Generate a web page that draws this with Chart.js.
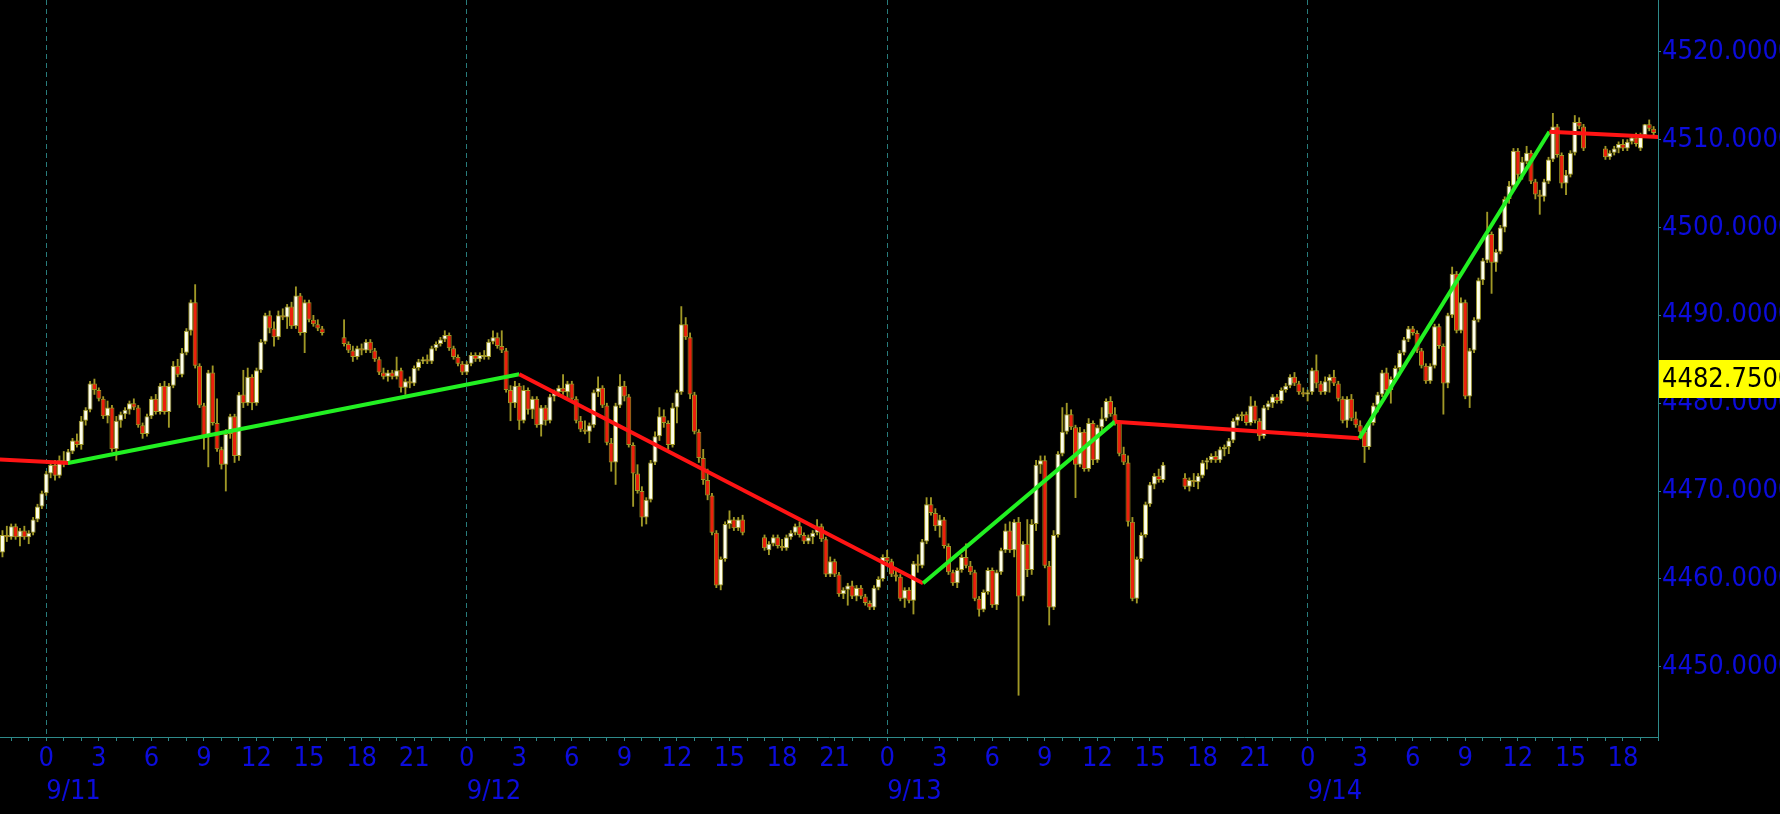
<!DOCTYPE html>
<html>
<head>
<meta charset="utf-8">
<script src="https://cdn.jsdelivr.net/npm/chart.js@4.4.0/dist/chart.umd.min.js"></script>
<style>
  html,body{margin:0;padding:0;background:#000;}
  #wrap{width:1780px;height:814px;}
</style>
</head>
<body>
<div id="wrap"><canvas id="c" width="1780" height="814"></canvas></div>
<script>
// ── time axis: hours counted from 9/11 0:00, 15-minute candles ──
const xMin = -2.64, xMax = 92;
const barHours = 0.25;
const dayStarts = [0, 24, 48, 72];
const dayLabels = ['9/11', '9/12', '9/13', '9/14'];
const yMin = 4442.0, yMax = 4525.9;
const yTicks = [4450, 4460, 4470, 4480, 4490, 4500, 4510, 4520];
const lastPrice = 4482.75;

// session start hours (daily 16:00-17:00 break leaves gaps)
const sessionStarts = [-2.5, 17, 41, 65, 89];

// candles [open, high, low, close]
const session0 = [
  [4463.0,4465.5,4462.5,4465.0],[4465.0,4466.0,4464.25,4464.75],[4464.75,4466.25,4464.5,4466.0],[4466.0,4466.25,4464.5,4464.75],
  [4464.75,4465.75,4463.75,4465.5],[4465.5,4466.0,4464.5,4464.75],[4464.75,4465.5,4464.0,4465.25],[4465.25,4467.0,4465.0,4466.75],
  [4466.75,4468.5,4466.5,4468.25],[4468.25,4470.0,4468.0,4469.75],[4469.75,4472.25,4469.5,4472.0],[4472.0,4473.25,4471.5,4473.0],
  [4473.0,4473.5,4471.25,4471.75],[4471.75,4474.0,4471.5,4473.5],[4473.5,4474.5,4472.75,4473.25],[4473.25,4474.75,4473.0,4474.5],
  [4474.5,4476.0,4474.25,4475.75],[4475.75,4476.5,4475.0,4475.25],[4475.25,4478.5,4474.75,4478.0],[4478.0,4479.5,4477.5,4479.25],
  [4479.25,4482.5,4479.0,4482.25],[4482.25,4482.75,4481.0,4481.5],[4481.5,4481.75,4480.25,4480.5],[4480.5,4480.75,4478.25,4478.5],
  [4478.5,4480.25,4477.75,4479.5],[4479.5,4479.75,4474.5,4474.75],[4474.75,4478.5,4473.5,4478.0],[4478.0,4479.0,4477.25,4478.75],
  [4478.75,4479.5,4478.25,4479.25],[4479.25,4480.25,4478.75,4480.0],[4480.0,4480.5,4479.25,4479.5],[4479.5,4479.75,4477.25,4477.5],
  [4477.5,4477.75,4476.0,4476.5],[4476.5,4478.75,4476.25,4478.5],[4478.5,4480.75,4478.25,4480.5],[4480.5,4481.0,4478.75,4479.0],
  [4479.0,4482.25,4478.75,4482.0],[4482.0,4482.5,4478.75,4479.0],[4479.0,4482.25,4477.25,4482.0],[4482.0,4484.75,4481.75,4484.25],
  [4484.25,4485.0,4483.0,4483.25],[4483.25,4486.25,4483.0,4485.75],[4485.75,4488.5,4485.5,4488.25],[4488.25,4491.75,4487.75,4491.5],
  [4491.5,4493.5,4484.0,4484.25],[4484.25,4484.5,4479.5,4479.75],[4479.75,4480.0,4474.75,4476.25],[4476.25,4483.75,4472.75,4483.5],
  [4483.5,4484.25,4477.5,4477.75],[4477.75,4480.5,4474.5,4474.75],[4474.75,4475.0,4472.5,4473.0],[4473.0,4477.0,4470.0,4476.5],
  [4476.5,4478.75,4476.0,4478.5],[4478.5,4478.75,4473.25,4474.0],[4474.0,4481.25,4473.5,4481.0],[4481.0,4483.75,4479.5,4480.0],
  [4480.0,4484.0,4479.75,4483.0],[4483.0,4483.25,4479.25,4480.0],[4480.0,4484.0,4479.75,4483.75],[4483.75,4487.25,4483.5,4487.0],
  [4487.0,4490.25,4486.75,4490.0],[4490.0,4490.5,4488.0,4488.5],[4488.5,4489.25,4486.5,4487.5],[4487.5,4490.5,4487.25,4490.0],
  [4490.0,4490.75,4489.5,4489.75],[4489.75,4491.25,4488.5,4491.0],[4491.0,4491.5,4488.5,4488.75],[4488.75,4493.25,4488.5,4492.25],
  [4492.25,4492.5,4487.75,4488.0],[4488.0,4491.75,4485.75,4491.5],[4491.5,4491.75,4489.25,4489.5],[4489.5,4490.0,4488.75,4489.0],
  [4489.0,4489.5,4488.25,4488.5],[4488.5,4488.75,4487.75,4488.0]
];
const session1 = [
  [4487.5,4489.5,4486.5,4486.75],[4486.75,4487.0,4485.75,4486.0],[4486.0,4486.5,4484.75,4485.25],[4485.25,4486.5,4485.0,4486.25],
  [4486.25,4486.75,4485.5,4486.0],[4486.0,4487.25,4485.75,4487.0],[4487.0,4487.25,4485.75,4486.0],[4486.0,4486.25,4484.75,4485.0],
  [4485.0,4485.25,4483.25,4483.5],[4483.5,4484.0,4482.75,4483.0],[4483.0,4483.75,4482.5,4483.5],[4483.5,4483.75,4482.75,4483.0],
  [4483.0,4485.25,4482.75,4483.75],[4483.75,4484.0,4481.25,4481.75],[4481.75,4482.75,4481.0,4482.5],[4482.5,4483.0,4481.75,4482.25],
  [4482.25,4484.25,4482.0,4484.0],[4484.0,4485.0,4483.75,4484.75],[4484.75,4485.25,4484.5,4485.0],[4485.0,4485.5,4484.5,4484.75],
  [4484.75,4486.5,4484.5,4486.25],[4486.25,4487.0,4486.0,4486.75],[4486.75,4487.5,4486.5,4487.25],[4487.25,4488.25,4487.0,4487.75],
  [4487.75,4488.0,4486.0,4486.25],[4486.25,4486.5,4485.0,4485.25],[4485.25,4485.5,4484.25,4484.5],[4484.5,4484.75,4483.25,4483.5],
  [4483.5,4484.75,4483.25,4484.5],[4484.5,4485.75,4484.25,4485.5],[4485.5,4485.75,4484.75,4485.0],[4485.0,4485.75,4484.75,4485.5],
  [4485.5,4486.0,4485.0,4485.25],[4485.25,4487.25,4485.0,4487.0],[4487.0,4488.25,4486.75,4487.5],[4487.5,4488.0,4486.25,4486.5],
  [4486.5,4488.25,4485.75,4486.0],[4486.0,4486.25,4481.25,4481.5],[4481.5,4482.0,4478.0,4480.0],[4480.0,4482.5,4479.5,4482.0],
  [4482.0,4482.25,4477.0,4478.0],[4478.0,4482.0,4477.75,4481.5],[4481.5,4481.75,4478.75,4479.25],[4479.25,4480.75,4478.25,4480.5],
  [4480.5,4480.75,4477.25,4477.5],[4477.5,4479.75,4476.25,4479.5],[4479.5,4479.75,4477.5,4478.0],[4478.0,4481.0,4477.75,4480.75],
  [4480.75,4481.5,4480.25,4481.25],[4481.25,4482.0,4480.75,4481.75],[4481.75,4483.25,4481.0,4481.25],[4481.25,4482.5,4480.5,4482.25],
  [4482.25,4482.5,4480.25,4480.5],[4480.5,4480.75,4477.75,4478.0],[4478.0,4478.5,4476.75,4477.0],[4477.0,4478.0,4476.5,4476.75],
  [4476.75,4477.75,4475.5,4477.5],[4477.5,4481.5,4477.25,4481.25],[4481.25,4483.0,4480.75,4481.75],[4481.75,4482.0,4479.5,4479.75],
  [4479.75,4480.0,4475.25,4475.5],[4475.5,4476.0,4472.25,4473.25],[4473.25,4480.0,4470.75,4479.75],[4479.75,4483.25,4479.5,4482.0],
  [4482.0,4482.5,4480.25,4480.75],[4480.75,4481.0,4475.0,4475.25],[4475.25,4475.5,4468.25,4472.0],[4472.0,4473.0,4469.75,4470.0],
  [4470.0,4470.5,4466.0,4467.0],[4467.0,4469.25,4466.25,4469.0],[4469.0,4473.5,4468.75,4473.25],[4473.25,4476.75,4473.0,4476.25],
  [4476.25,4479.5,4475.75,4478.5],[4478.5,4479.25,4477.25,4477.75],[4477.75,4478.0,4474.75,4475.25],[4475.25,4480.0,4475.0,4479.5],
  [4479.5,4481.5,4477.75,4481.25],[4481.25,4491.0,4481.0,4489.0],[4489.0,4489.75,4487.25,4487.5],[4487.5,4488.0,4480.5,4481.0],
  [4481.0,4481.25,4476.5,4476.75],[4476.75,4477.0,4473.25,4473.75],[4473.75,4474.75,4470.75,4471.25],[4471.25,4472.5,4469.0,4469.5],
  [4469.5,4469.75,4465.0,4465.25],[4465.25,4465.5,4459.0,4459.25],[4459.25,4462.5,4458.75,4462.25],[4462.25,4466.5,4462.0,4466.25],
  [4466.25,4467.75,4465.75,4466.75],[4466.75,4467.0,4465.5,4465.75],[4465.75,4467.0,4465.5,4466.75],[4466.75,4467.25,4465.0,4465.25]
];
const session2 = [
  [4464.75,4465.0,4463.25,4463.5],[4463.25,4464.25,4462.75,4464.0],[4464.0,4465.0,4463.75,4464.75],[4464.75,4465.0,4463.5,4463.75],
  [4463.75,4464.5,4463.25,4463.5],[4463.5,4465.0,4463.25,4464.75],[4464.75,4465.5,4464.5,4465.25],[4465.25,4466.25,4465.0,4466.0],
  [4466.0,4466.5,4464.75,4465.0],[4465.0,4465.25,4464.0,4464.25],[4464.25,4465.0,4464.0,4464.75],[4464.75,4465.5,4464.0,4465.25],
  [4465.25,4466.75,4465.0,4466.0],[4466.0,4466.25,4464.25,4464.5],[4464.5,4464.75,4460.25,4460.5],[4460.5,4462.5,4460.25,4462.0],
  [4462.0,4462.25,4460.25,4460.5],[4460.5,4460.75,4458.0,4458.25],[4458.25,4459.0,4457.75,4458.75],[4458.75,4459.5,4457.0,4459.25],
  [4459.25,4459.75,4457.75,4458.0],[4458.0,4459.25,4457.5,4459.0],[4459.0,4459.25,4457.75,4458.0],[4458.0,4458.25,4457.0,4457.25],
  [4457.25,4457.5,4456.5,4456.75],[4456.75,4459.25,4456.5,4459.0],[4459.0,4460.25,4458.75,4460.0],[4460.0,4462.75,4459.75,4462.5],
  [4462.5,4463.25,4461.75,4462.0],[4462.0,4462.25,4460.25,4460.5],[4460.5,4461.25,4459.75,4460.25],[4460.25,4460.5,4457.5,4457.75],
  [4457.75,4459.0,4456.75,4458.75],[4458.75,4459.0,4457.25,4457.5],[4457.5,4462.0,4456.0,4461.75],[4461.75,4462.75,4460.75,4461.5],
  [4461.5,4464.5,4461.25,4464.25],[4464.25,4469.25,4464.0,4468.5],[4468.5,4469.25,4467.25,4467.5],[4467.5,4468.0,4465.5,4466.0],
  [4466.0,4467.25,4464.75,4466.75],[4466.75,4467.0,4463.5,4463.75],[4463.75,4464.0,4460.5,4460.75],[4460.75,4461.0,4459.25,4459.5],
  [4459.5,4461.25,4459.0,4461.0],[4461.0,4462.75,4460.75,4462.5],[4462.5,4464.0,4461.25,4461.5],[4461.5,4462.0,4460.5,4460.75],
  [4460.75,4461.0,4457.5,4457.75],[4457.75,4458.0,4455.75,4456.5],[4456.5,4458.75,4456.25,4458.5],[4458.5,4461.25,4458.25,4461.0],
  [4461.0,4461.25,4456.75,4457.0],[4457.0,4461.0,4456.5,4460.75],[4460.75,4463.5,4460.5,4463.25],[4463.25,4466.25,4463.0,4465.5],
  [4465.5,4466.5,4463.0,4463.25],[4463.25,4466.75,4462.5,4466.5],[4466.5,4467.0,4446.75,4458.0],[4458.0,4464.25,4457.5,4464.0],
  [4464.0,4466.75,4460.25,4461.0],[4461.0,4466.75,4460.5,4466.25],[4466.25,4473.5,4465.5,4473.0],[4473.0,4474.0,4472.0,4473.5],
  [4473.5,4474.0,4461.25,4461.5],[4461.5,4462.0,4454.75,4456.75],[4456.75,4465.5,4456.5,4465.0],[4465.0,4474.5,4464.75,4474.25],
  [4474.25,4479.5,4474.0,4476.75],[4476.75,4480.0,4476.5,4478.75],[4478.75,4479.25,4477.0,4477.25],[4477.25,4477.5,4469.25,4473.0],
  [4473.0,4477.25,4472.75,4476.75],[4476.75,4477.0,4472.25,4472.5],[4472.5,4478.25,4472.25,4477.75],[4477.75,4478.0,4473.0,4473.5],
  [4473.5,4477.5,4473.25,4477.25],[4477.25,4479.5,4476.75,4478.25],[4478.25,4480.5,4478.0,4480.25],[4480.25,4480.75,4478.5,4478.75],
  [4478.75,4479.5,4477.5,4477.75],[4477.75,4478.0,4474.0,4474.25],[4474.25,4475.0,4473.0,4473.25],[4473.25,4474.0,4466.0,4466.5],
  [4466.5,4467.0,4457.5,4457.75],[4457.75,4462.5,4457.25,4462.25],[4462.25,4465.25,4462.0,4465.0],[4465.0,4468.75,4464.75,4468.5],
  [4468.5,4471.0,4468.25,4470.75],[4470.75,4472.0,4470.25,4471.75],[4471.75,4472.5,4471.0,4471.25],[4471.25,4473.25,4471.0,4473.0]
];
const session3 = [
  [4471.5,4472.0,4470.25,4470.5],[4470.5,4471.5,4470.0,4471.25],[4471.25,4472.0,4470.5,4471.0],[4471.0,4472.0,4470.25,4471.75],
  [4471.75,4473.5,4471.5,4473.25],[4473.25,4473.75,4472.5,4473.5],[4473.5,4474.25,4473.25,4474.0],[4474.0,4474.5,4473.25,4473.5],
  [4473.5,4475.0,4473.25,4474.75],[4474.75,4475.25,4474.0,4475.0],[4475.0,4476.0,4474.25,4475.75],[4475.75,4478.25,4475.5,4478.0],
  [4478.0,4478.75,4477.5,4478.5],[4478.5,4479.0,4478.0,4478.75],[4478.75,4479.0,4477.5,4477.75],[4477.75,4480.75,4477.5,4479.75],
  [4479.75,4480.25,4477.75,4478.0],[4478.0,4478.25,4475.75,4476.25],[4476.25,4479.75,4476.0,4479.5],[4479.5,4480.25,4479.25,4480.0],
  [4480.0,4481.0,4479.5,4480.75],[4480.75,4481.0,4480.0,4480.25],[4480.25,4481.75,4480.0,4481.5],[4481.5,4482.25,4481.25,4482.0],
  [4482.0,4483.25,4481.75,4483.0],[4483.0,4483.5,4482.0,4482.25],[4482.25,4482.5,4481.0,4481.25],[4481.25,4481.75,4480.75,4481.0],
  [4481.0,4481.5,4480.25,4481.25],[4481.25,4484.0,4481.0,4483.75],[4483.75,4485.5,4481.75,4482.25],[4482.25,4482.5,4481.0,4481.25],
  [4481.25,4483.0,4481.0,4482.5],[4482.5,4483.25,4481.25,4483.0],[4483.0,4483.75,4482.0,4482.25],[4482.25,4482.5,4480.25,4480.5],
  [4480.5,4480.75,4477.75,4478.0],[4478.0,4480.75,4477.25,4480.5],[4480.5,4481.0,4478.0,4478.25],[4478.25,4479.0,4477.25,4477.5],
  [4477.5,4478.0,4476.5,4476.75],[4476.75,4477.0,4473.25,4475.0],[4475.0,4478.0,4474.75,4477.75],[4477.75,4480.0,4477.5,4479.75],
  [4479.75,4481.25,4479.0,4481.0],[4481.0,4483.75,4480.75,4483.5],[4483.5,4484.0,4481.0,4481.5],[4481.5,4483.0,4480.0,4482.75],
  [4482.75,4484.25,4482.5,4484.0],[4484.0,4486.0,4483.75,4485.75],[4485.75,4487.5,4485.5,4487.25],[4487.25,4488.75,4487.0,4488.5],
  [4488.5,4488.75,4487.75,4488.0],[4488.0,4488.25,4485.75,4486.0],[4486.0,4486.25,4484.0,4484.25],[4484.25,4484.5,4482.25,4482.5],
  [4482.5,4484.5,4482.25,4484.25],[4484.25,4489.0,4484.0,4488.75],[4488.75,4489.0,4486.25,4486.5],[4486.5,4486.75,4478.75,4482.25],
  [4482.25,4490.25,4481.75,4490.0],[4490.0,4495.5,4489.75,4494.75],[4494.75,4495.0,4488.0,4488.25],[4488.25,4492.0,4488.0,4491.5],
  [4491.5,4491.75,4480.5,4480.75],[4480.75,4486.25,4479.5,4486.0],[4486.0,4489.75,4485.75,4489.5],[4489.5,4494.25,4489.25,4494.0],
  [4494.0,4496.5,4493.5,4496.25],[4496.25,4501.75,4496.0,4499.25],[4499.25,4499.5,4492.5,4496.0],[4496.0,4497.5,4495.0,4497.25],
  [4497.25,4500.25,4497.0,4500.0],[4500.0,4503.5,4499.5,4503.25],[4503.25,4505.25,4502.75,4504.75],[4504.75,4509.0,4504.5,4508.75],
  [4508.75,4509.0,4505.5,4506.0],[4506.0,4508.0,4505.5,4507.5],[4507.5,4509.25,4507.25,4508.5],[4508.5,4508.75,4505.0,4505.25],
  [4505.25,4505.5,4503.25,4503.75],[4503.75,4504.25,4501.5,4503.5],[4503.5,4505.5,4503.0,4505.25],[4505.25,4508.0,4505.0,4507.75],
  [4507.75,4513.0,4507.5,4511.5],[4511.5,4511.75,4508.0,4508.25],[4508.25,4508.5,4504.5,4505.0],[4505.0,4506.5,4503.75,4506.0],
  [4506.0,4508.75,4505.75,4508.5],[4508.5,4512.75,4508.25,4512.0],[4512.0,4512.5,4511.25,4511.5],[4511.5,4511.75,4508.75,4509.0]
];
const session4 = [
  [4509.0,4509.25,4507.75,4508.0],[4508.0,4508.75,4507.75,4508.5],[4508.5,4509.25,4508.25,4509.0],[4509.0,4509.75,4508.5,4509.5],
  [4509.5,4510.0,4508.75,4509.0],[4509.0,4510.0,4508.75,4509.75],[4509.75,4510.5,4509.5,4510.25],[4510.25,4510.75,4509.25,4509.5],
  [4509.0,4510.75,4508.75,4510.5],[4510.5,4511.75,4510.25,4511.75],[4511.75,4512.25,4511.0,4511.25],[4511.25,4511.5,4510.5,4510.75]
];
const sessions = [session0, session1, session2, session3, session4];

// zigzag pivots
const zigzagHours  = [-6, 1.25, 27.0, 50.05, 61.0, 74.95, 85.8, 92.5];
const zigzagPrices = [4473.95, 4473.2, 4483.3, 4459.5, 4477.9, 4476.0, 4510.9, 4510.25];

const COL = {
  axis:'#2e8a8a', grid:'#287c7c', label:'#0c0cdc', wick:'#a09826',
  up:'#ffffea', down:'#ec200c', zzUp:'#22f022', zzDown:'#ff1414', tag:'#ffff00'
};
const FONT = "'DejaVu Sans Condensed','DejaVu Sans',sans-serif";
const TICK_FONT = { family: FONT, size: 27 };

const bodies = [], wicks = [];
sessions.forEach((rows, s) => {
  rows.forEach((r, i) => {
    const t = sessionStarts[s] + i * barHours;
    bodies.push({ x: t, y: [r[0], r[3]] });
    wicks.push({ x: t, y: [r[2], r[1]] });
  });
});
const zigzag = zigzagHours.map((h, i) => ({ x: h, y: zigzagPrices[i] }));

const noPad = s => { s.paddingTop = 0; s.paddingBottom = 0; s.paddingLeft = 0; s.paddingRight = 0; };
const hourOf = v => ((v % 24) + 24) % 24;

const priceTag = {
  id: 'priceTag',
  afterDraw(chart) {
    const { ctx, chartArea, scales: { y } } = chart;
    const py = Math.round(y.getPixelForValue(lastPrice));
    ctx.save();
    ctx.fillStyle = COL.tag;
    ctx.fillRect(chartArea.right + 1, py - 19, chart.width - chartArea.right, 38);
    ctx.fillStyle = '#000';
    ctx.font = `27px ${FONT}`;
    ctx.textBaseline = 'middle';
    ctx.fillText(lastPrice.toFixed(4), chartArea.right + 4, py + 1);
    ctx.restore();
  }
};

new Chart(document.getElementById('c'), {
  type: 'bar',
  data: {
    datasets: [
      { type: 'line', data: zigzag, order: 0, borderWidth: 4, pointRadius: 0,
        borderColor: COL.zzDown,
        segment: { borderColor: c => c.p1.parsed.y > c.p0.parsed.y ? COL.zzUp : COL.zzDown } },
      { data: bodies, order: 1, grouped: false, barPercentage: 1.2, categoryPercentage: 1,
        maxBarThickness: 5, minBarLength: 2, borderWidth: 1, borderSkipped: false,
        borderColor: COL.wick,
        backgroundColor: c => (c.raw && c.raw.y[1] >= c.raw.y[0]) ? COL.up : COL.down },
      { data: wicks, order: 2, grouped: false, barPercentage: 1, categoryPercentage: 1,
        maxBarThickness: 1.2, borderWidth: 0, backgroundColor: COL.wick }
    ]
  },
  options: {
    responsive: false, animation: false, devicePixelRatio: 1,
    layout: { padding: 0 },
    plugins: { legend: { display: false }, tooltip: { enabled: false } },
    scales: {
      x: {
        type: 'linear', position: 'bottom', weight: 1, min: xMin, max: xMax, offset: false,
        afterBuildTicks: s => { const t = []; for (let h = Math.ceil(xMin); h <= xMax; h++) t.push({ value: h }); s.ticks = t; },
        afterFit: s => { s.height = 40; noPad(s); },
        grid: { offset: false, color: c => (c.tick && hourOf(c.tick.value) === 0) ? COL.grid : 'rgba(0,0,0,0)',
                tickColor: COL.axis, tickLength: 4, lineWidth: 1 },
        border: { color: COL.axis, dash: [5, 4] },
        ticks: { autoSkip: false, maxRotation: 0, minRotation: 0, padding: 2, color: COL.label, font: TICK_FONT,
                 callback: v => hourOf(v) % 3 === 0 ? String(hourOf(v)) : '' }
      },
      x2: {
        type: 'linear', position: 'bottom', weight: 2, min: xMin, max: xMax, offset: false,
        afterBuildTicks: s => { s.ticks = dayStarts.map(v => ({ value: v })); },
        afterFit: s => { s.height = 37; noPad(s); },
        grid: { display: false, drawTicks: false },
        border: { display: false },
        ticks: { autoSkip: false, maxRotation: 0, minRotation: 0, align: 'start', padding: -1, color: COL.label, font: TICK_FONT,
                 callback: v => dayLabels[dayStarts.indexOf(v)] }
      },
      y: {
        position: 'right', min: yMin, max: yMax,
        afterBuildTicks: s => { s.ticks = yTicks.map(v => ({ value: v })); },
        afterFit: s => { s.width = 122; noPad(s); },
        grid: { drawOnChartArea: false, color: COL.axis, tickLength: 3 },
        border: { color: COL.axis },
        ticks: { padding: 1, color: COL.label, font: TICK_FONT, callback: v => Number(v).toFixed(4) }
      }
    }
  },
  plugins: [priceTag]
});
</script>
</body>
</html>
